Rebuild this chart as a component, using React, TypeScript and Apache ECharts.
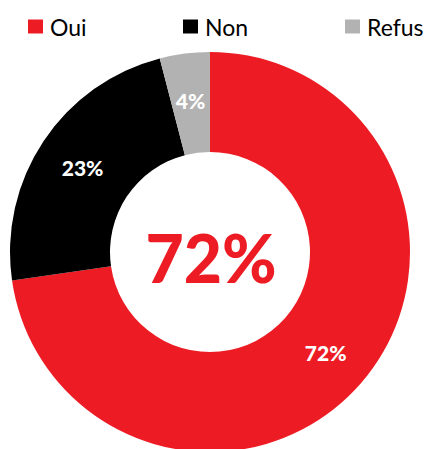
import React, { useEffect, useRef } from "react";
import * as echarts from "echarts";

const categories = ["Oui", "Non", "Refus"];
const values = [72, 23, 4];
const colors = ["#ED1C24", "#000000", "#B2B2B2"];
const centerLabel = "72%";
const legendLefts = [23, 178, 340];

export default function App() {
  const ref = useRef<HTMLDivElement>(null);
  useEffect(() => {
    if (!ref.current) return;
    const chart = echarts.init(ref.current, null, { renderer: "svg" });
    const font = "Lato, 'Noto Sans', sans-serif";
    chart.setOption({
      animation: false,
      color: colors,
      legend: categories.map((c, i) => ({
        data: [c],
        left: legendLefts[i],
        top: 10,
        icon: "rect",
        itemWidth: 15,
        itemHeight: 14,
        itemGap: 8,
        textStyle: { fontFamily: font, fontSize: 23, color: "#000", padding: [0, 0, 0, 2] },
        selectedMode: false,
      })),
      graphic: [
        {
          type: "text",
          x: 211,
          y: 257,
          style: {
            text: centerLabel,
            fill: "#ED1C24",
            font: `900 66px ${font}`,
            textAlign: "center",
            textVerticalAlign: "middle",
          },
          z: 100,
        },
      ],
      series: [
        {
          type: "pie",
          center: [210, 252],
          radius: [100, 200],
          startAngle: 90,
          clockwise: true,
          avoidLabelOverlap: false,
          label: {
            show: true,
            position: "inside",
            formatter: (p: any) => `${p.value}%`,
            color: "#fff",
            fontFamily: font,
            fontWeight: 900,
            fontSize: 21,
          },
          labelLine: { show: false },
          emphasis: { disabled: true },
          itemStyle: { borderWidth: 0 },
          data: categories.map((c, i) => ({ name: c, value: values[i] })),
        },
      ],
    });
    return () => chart.dispose();
  }, []);
  return (
    <div
      ref={ref}
      style={{ position: "fixed", left: 0, top: 0, width: 426, height: 449, background: "#fff" }}
    />
  );
}
